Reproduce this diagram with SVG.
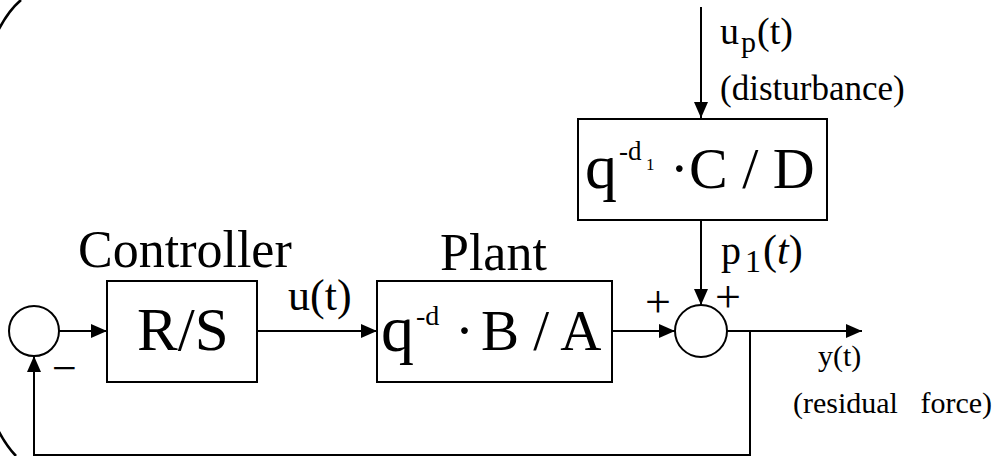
<svg xmlns="http://www.w3.org/2000/svg" width="1000" height="456" viewBox="0 0 1000 456">
<style>
.box{fill:#fff;stroke:#000;stroke-width:2}
.ln{fill:none;stroke:#000;stroke-width:2}
text{font-family:'Liberation Serif','DejaVu Serif','Times New Roman',serif;fill:#000}
</style>
<defs>
<marker id="ah" markerWidth="16" markerHeight="14" refX="16" refY="7" orient="auto" markerUnits="userSpaceOnUse">
<path d="M0,0 L16,7 L0,14 Z" fill="#000"/>
</marker>
</defs>
<rect width="1000" height="456" fill="#fff"/>
<path d="M21,0 A83 240 0 0 0 16,456" fill="none" stroke="#000" stroke-width="2.6"/>
<g id="connectors">
<line class="ln" x1="59" y1="331" x2="107" y2="331" marker-end="url(#ah)"/>
<line class="ln" x1="257" y1="331" x2="377" y2="331" marker-end="url(#ah)"/>
<line class="ln" x1="612" y1="331" x2="675" y2="331" marker-end="url(#ah)"/>
<line class="ln" x1="727" y1="331" x2="862" y2="331" marker-end="url(#ah)"/>
<polyline class="ln" points="750,331 750,455 34,455 34,356" marker-end="url(#ah)"/>
<line class="ln" x1="701" y1="7" x2="701" y2="118" marker-end="url(#ah)"/>
<line class="ln" x1="701" y1="220" x2="701" y2="305" marker-end="url(#ah)"/>
</g>
<g id="sum1" font-family="'Liberation Serif', serif">
<circle class="box" cx="34" cy="331" r="25"/>
<text x="52" y="383" font-size="44">−</text>
</g>
<g id="controller" font-family="'Liberation Serif', serif">
<rect class="box" x="107" y="281" width="150" height="101"/>
<text x="78" y="267" font-size="52">Controller</text>
<text x="137" y="350" font-size="61">R/S</text>
</g>
<g id="plant" font-family="'Liberation Serif', serif">
<rect class="box" x="377" y="281" width="235" height="101"/>
<text x="440" y="270" font-size="52">Plant</text>
<text x="381" y="351" font-size="66">q</text>
<text x="416" y="325" font-size="28">-d</text>
<text x="455" y="350" font-size="57">·</text>
<text x="481" y="350" font-size="57">B / A</text>
</g>
<g id="sum2" font-family="'Liberation Serif', serif">
<circle class="box" cx="701" cy="331" r="26"/>
<text x="645" y="317" font-size="46">+</text>
<text x="715" y="312" font-size="46">+</text>
</g>
<g id="disturbance" font-family="'Liberation Serif', serif">
<rect class="box" x="578" y="119" width="249" height="101"/>
<text x="585" y="188" font-size="64">q</text>
<text x="619" y="160" font-size="27">-d</text>
<text x="646" y="170" font-size="17">1</text>
<text x="670" y="188" font-size="56">·</text>
<text x="689" y="188" font-size="58">C / D</text>
</g>
<g id="labels" font-family="'Liberation Serif', serif">
<text x="288" y="310" font-size="44">u(t)</text>
<text x="721" y="264" font-size="40">p</text>
<text x="745" y="272" font-size="32">1</text>
<text x="763" y="264" font-size="42">(<tspan font-style="italic">t</tspan>)</text>
<text x="720" y="44" font-size="38">u</text>
<text x="741" y="52" font-size="30">p</text>
<text x="757" y="44" font-size="38">(t)</text>
<text x="720" y="100" font-size="35">(disturbance)</text>
<text x="818" y="366" font-size="30">y(t)</text>
<text x="793" y="413" font-size="30" xml:space="preserve">(residual   force)</text>
</g>
</svg>
